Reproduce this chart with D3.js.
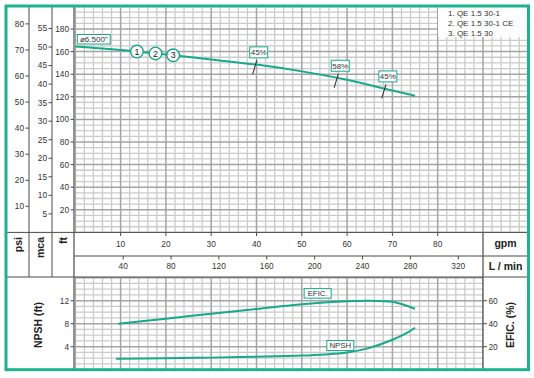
<!DOCTYPE html>
<html><head><meta charset="utf-8">
<script src="https://cdn.jsdelivr.net/npm/d3@7"></script>
<style>body{margin:0;background:#fff}svg{display:block;font-family:"Liberation Sans",Arial,sans-serif}</style>
</head><body><svg id="c" width="534" height="378"></svg>
<script>
// ---- data ----
const hqFlow = [0, 10, 20, 30, 40, 50, 60, 70, 75];           // gpm
const hqHead = [164.5, 161.5, 157.5, 153, 148.5, 142.5, 135, 125.5, 121]; // ft
const effFlow = [9.5, 20, 30, 40, 50, 60, 65, 70, 72.5, 75];
const effVal  = [40, 44.3, 48.7, 52.8, 57, 59.5, 60, 59, 56.5, 53]; // %
const npshFlow = [9, 20, 30, 40, 50, 55, 60, 65, 70, 73, 75];
const npshVal  = [1.9, 2.0, 2.1, 2.25, 2.45, 2.65, 3.0, 3.8, 5.2, 6.3, 7.3]; // ft
const modelFlow = [13.6, 17.7, 21.6];
const modelLabel = ["1", "2", "3"];
const effMarkFlow = [39.5, 57.5, 68];
const effMarkLabel = ["45%", "58%", "45%"];
const legendItems = ["1. QE 1.5 30-1", "2. QE 1.5 30-1 CE", "3. QE 1.5 30"];
const gpmTicks = [10, 20, 30, 40, 50, 60, 70, 80];
const lminTicks = [40, 80, 120, 160, 200, 240, 280, 320];
const psiTicks = [10, 20, 30, 40, 50, 60, 70, 80];
const mcaTicks = [5, 10, 15, 20, 25, 30, 35, 40, 45, 50, 55];
const ftTicks = [20, 40, 60, 80, 100, 120, 140, 160, 180];
const npshTicks = [4, 8, 12];
const efTicks = [20, 40, 60];
const diaLabel = "ø6.500\"";

// ---- style ----
const GREEN = "#16a98a", FRAME = "#1cb38f", AX = "#4a4a4a", TXT = "#333";
const MINOR = "#cbcbcb", MAJOR = "#a4a4a4";

const svg = d3.select("#c");
const x = d3.scaleLinear([0, 90], [75.3, 483]);
const yFt = d3.scaleLinear([0, 200], [232.4, 6.4]);
const yPsi = d3.scaleLinear([0, 200 / 2.3067], [232.4, 6.4]);
const yMca = d3.scaleLinear([0, 200 / 3.2808], [232.4, 6.4]);
const xL = d3.scaleLinear([0, 90 * 3.7854], [75.3, 483]);
const yN = d3.scaleLinear([0, 16], [369.7, 277.7]);
const yE = d3.scaleLinear([0, 80], [369.7, 277.7]);

const defs = svg.append("defs");
defs.append("clipPath").attr("id", "ct").append("rect").attr("x", 75).attr("y", 7.5).attr("width", 452).attr("height", 224.9);
defs.append("clipPath").attr("id", "cb").append("rect").attr("x", 75).attr("y", 277).attr("width", 408).attr("height", 92.7);

function grid(g, xmax, fmax, fstep, fmaj, ys) {
  const vx = d3.range(0, xmax + 0.01, 2), hy = d3.range(0, fmax + 0.01, fstep);
  const [y0, y1] = ys.range();
  g.selectAll(".vm").data(vx.filter(v => v % 10 !== 0)).join("line")
    .attr("x1", d => x(d)).attr("x2", d => x(d)).attr("y1", y1 - 2).attr("y2", y0 + 2)
    .attr("stroke", MINOR).attr("stroke-width", 1.3);
  g.selectAll(".hm").data(hy.filter(v => Math.abs(v % fmaj) > 1e-6)).join("line")
    .attr("x1", 70).attr("x2", 530).attr("y1", d => ys(d)).attr("y2", d => ys(d))
    .attr("stroke", MINOR).attr("stroke-width", 1.3);
  g.selectAll(".vM").data(vx.filter(v => v % 10 === 0)).join("line")
    .attr("x1", d => x(d)).attr("x2", d => x(d)).attr("y1", y1 - 2).attr("y2", y0 + 2)
    .attr("stroke", MAJOR).attr("stroke-width", 1.5);
  g.selectAll(".hM").data(hy.filter(v => Math.abs(v % fmaj) < 1e-6)).join("line")
    .attr("x1", 70).attr("x2", 530).attr("y1", d => ys(d)).attr("y2", d => ys(d))
    .attr("stroke", MAJOR).attr("stroke-width", 1.5);
}
const gt = svg.append("g").attr("clip-path", "url(#ct)");
grid(gt, 100, 200, 5, 20, yFt);
const gb = svg.append("g").attr("clip-path", "url(#cb)");
grid(gb, 90, 16, 1, 4, yN);

// ---- structure lines ----
const L = (x1, y1, x2, y2, w = 1, c = AX) => svg.append("line").attr("x1", x1).attr("y1", y1).attr("x2", x2).attr("y2", y2).attr("stroke", c).attr("stroke-width", w);
L(29, 7, 29, 277); L(52, 7, 52, 277); L(74, 7, 74, 369.7, 1.2);
L(7, 232.4, 528, 232.4); L(74, 256, 528, 256); L(7, 277, 528, 277);
L(483, 232.4, 483, 369.7, 1.2);

// ---- left axes (top) ----
function leftTicks(vals, sc, ax) {
  const g = svg.append("g");
  vals.forEach(v => {
    g.append("line").attr("x1", ax - 3.5).attr("x2", ax).attr("y1", sc(v)).attr("y2", sc(v)).attr("stroke", AX);
    g.append("text").attr("x", ax - 5).attr("y", sc(v)).attr("dy", "0.35em").attr("text-anchor", "end")
      .attr("font-size", 8.3).attr("fill", TXT).text(v);
  });
}
leftTicks(psiTicks, yPsi, 29);
leftTicks(mcaTicks, yMca, 52);
leftTicks(ftTicks, yFt, 74);
leftTicks(npshTicks, yN, 74);
efTicks.forEach(v => {
  svg.append("line").attr("x1", 483).attr("x2", 487).attr("y1", yE(v)).attr("y2", yE(v)).attr("stroke", AX);
  svg.append("text").attr("x", 488.5).attr("y", yE(v)).attr("dy", "0.35em").attr("font-size", 8.3).attr("fill", TXT).text(v);
});

// ---- bottom x bands ----
gpmTicks.forEach(v => {
  L(x(v), 232.4, x(v), 236);
  svg.append("text").attr("x", x(v)).attr("y", 246.5).attr("text-anchor", "middle").attr("font-size", 8.3).attr("fill", TXT).text(v);
});
lminTicks.forEach(v => {
  L(xL(v), 256, xL(v), 259.5);
  svg.append("text").attr("x", xL(v)).attr("y", 269).attr("text-anchor", "middle").attr("font-size", 8.3).attr("fill", TXT).text(v);
});
const B = (t, xx, yy, rot, anchor = "middle", fs = 10.5) => {
  const s = svg.append("text").attr("font-size", fs).attr("font-weight", "bold").attr("fill", "#222").attr("text-anchor", anchor).text(t);
  if (rot) s.attr("transform", `translate(${xx},${yy}) rotate(-90)`).attr("dy", "0.35em");
  else s.attr("x", xx).attr("y", yy).attr("dy", "0.35em");
};
B("gpm", 505.5, 243.5, false);
B("L / min", 505.5, 266.5, false);
B("psi", 18, 237, true, "end");
B("mca", 40.5, 237, true, "end");
B("ft", 63.5, 237, true, "end");
B("NPSH (ft)", 38.5, 325, true);
B("EFIC. (%)", 510, 325, true);

// ---- curves ----
const hq = hqFlow.map((f, i) => [f, hqHead[i]]);
const ef = effFlow.map((f, i) => [f, effVal[i]]);
const np = npshFlow.map((f, i) => [f, npshVal[i]]);
const crv = d3.curveCatmullRom.alpha(0.5);
svg.append("path").attr("d", d3.line().x(d => x(d[0])).y(d => yFt(d[1])).curve(crv)(hq))
  .attr("fill", "none").attr("stroke", GREEN).attr("stroke-width", 2);
svg.append("path").attr("d", d3.line().x(d => x(d[0])).y(d => yE(d[1])).curve(crv)(ef))
  .attr("fill", "none").attr("stroke", GREEN).attr("stroke-width", 2);
svg.append("path").attr("d", d3.line().x(d => x(d[0])).y(d => yN(d[1])).curve(crv)(np))
  .attr("fill", "none").attr("stroke", GREEN).attr("stroke-width", 2);

const headAt = d3.scaleLinear(hqFlow, hqHead);
const effAt = d3.scaleLinear(effFlow, effVal);
const npAt = d3.scaleLinear(npshFlow, npshVal);

function tag(t, cx, bottom, w, h, fs) {
  svg.append("rect").attr("x", cx - w / 2).attr("y", bottom - h).attr("width", w).attr("height", h)
    .attr("fill", "#fff").attr("stroke", GREEN).attr("stroke-width", 1);
  svg.append("text").attr("x", cx).attr("y", bottom - h / 2).attr("dy", "0.35em").attr("text-anchor", "middle")
    .attr("font-size", fs).attr("fill", TXT).text(t);
}
// efficiency markers
effMarkFlow.forEach((f, i) => {
  const px = x(f), py = yFt(headAt(f));
  L(px - 1.6, py + 10, px + 2.6, py - 4, 1, "#222");
  tag(effMarkLabel[i], px + 4.5, py - 6.5, 18, 11, 8);
});
// diameter label
tag(diaLabel, x(0) + 18.5, yFt(hqHead[0]) - 2.5, 33, 9.5, 8);
// model circles
modelFlow.forEach((f, i) => {
  const px = x(f), py = yFt(headAt(f));
  svg.append("circle").attr("cx", px).attr("cy", py).attr("r", 6.3).attr("fill", "#fff").attr("stroke", GREEN).attr("stroke-width", 1.4);
  svg.append("text").attr("x", px).attr("y", py).attr("dy", "0.36em").attr("text-anchor", "middle").attr("font-size", 9).attr("fill", "#222").text(modelLabel[i]);
});
// bottom curve labels
tag("EFIC.", x(53.5), yE(effAt(53.5)) - 5, 27, 9.5, 7.8);
tag("NPSH", x(58.5), yN(npAt(58.5)) - 2.5, 27, 10, 7.8);

// legend
svg.append("rect").attr("x", 438).attr("y", 7).attr("width", 90).attr("height", 30).attr("fill", "#fff");
legendItems.forEach((t, i) => svg.append("text").attr("x", 448).attr("y", 15.5 + i * 10).attr("font-size", 8).attr("fill", TXT).text(t));

// frame
svg.append("rect").attr("x", 6).attr("y", 6).attr("width", 522.5).attr("height", 363.7)
  .attr("fill", "none").attr("stroke", FRAME).attr("stroke-width", 3);
</script></body></html>
